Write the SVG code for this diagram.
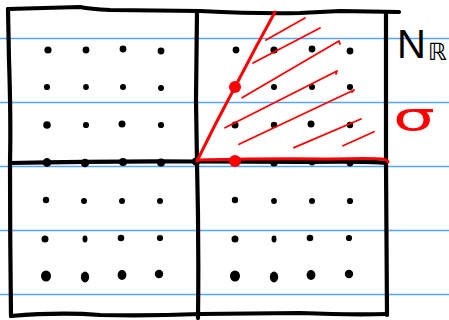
<svg xmlns="http://www.w3.org/2000/svg" width="449" height="320" viewBox="0 0 449 320">
<style>
.blue{stroke:#55a8f7;stroke-width:1.6;fill:none}
.ink{stroke:#000;stroke-width:4.2;fill:none;stroke-linecap:round;stroke-linejoin:round}
.red{stroke:#ff0000;stroke-width:3;fill:none;stroke-linecap:round;stroke-linejoin:round}
.hatch{stroke:#ff0000;stroke-width:1.8;fill:none;stroke-linecap:round;stroke-linejoin:round}
.dot{fill:#000}
.rdot{fill:#ff0000}
.lbl{font-family:"DejaVu Sans",sans-serif}
</style>
<rect width="449" height="320" fill="#fff"/>
<g id="paper-lines">
<line class="blue" x1="0" y1="38.5" x2="449" y2="38.5"/>
<line class="blue" x1="0" y1="102.5" x2="449" y2="102.5"/>
<line class="blue" x1="0" y1="166.5" x2="449" y2="166.5"/>
<line class="blue" x1="0" y1="230.5" x2="449" y2="230.5"/>
<line class="blue" x1="0" y1="294.5" x2="449" y2="294.5"/>
</g>
<g id="grid-borders">
<path class="ink" d="M8,9 L80,7 Q90,9 110,10 L200,11 Q260,14 300,13 L340,11 L399,12"/>
<path class="ink" d="M8,9 L9,60 Q11,120 10,163 Q10,240 11,316"/>
<path class="ink" d="M197,11 L196,100 L197,163 Q199,240 198,318"/>
<path class="ink" d="M386,12 L386,163 L387,315"/>
<path class="ink" d="M10,163 Q100,161 197,161.5 L300,162 Q370,161 386,163"/>
<path class="ink" d="M11,316 Q60,312 100,315 Q150,316 200,314 L300,313 Q350,315 387,314"/>
</g>
<g id="lattice">
<circle class="dot" cx="48" cy="50" r="3.6"/><circle class="dot" cx="86" cy="50" r="3.4"/><circle class="dot" cx="123" cy="49" r="3.4"/><circle class="dot" cx="161" cy="51" r="3.4"/>
<circle class="dot" cx="47" cy="87" r="3.1"/><circle class="dot" cx="86" cy="87" r="2.9"/><circle class="dot" cx="123" cy="87" r="3"/><circle class="dot" cx="161" cy="88" r="3"/>
<circle class="dot" cx="47" cy="125" r="3.8"/><circle class="dot" cx="86" cy="125" r="3.1"/><circle class="dot" cx="122" cy="124" r="3.5"/><circle class="dot" cx="161" cy="125" r="3.1"/>
<circle class="dot" cx="47" cy="162.5" r="4.4"/><circle class="dot" cx="85" cy="163" r="4.2"/><circle class="dot" cx="123" cy="162" r="4"/><circle class="dot" cx="161" cy="162.5" r="4"/><circle class="dot" cx="196" cy="161.5" r="4"/>
<circle class="dot" cx="46" cy="200" r="3.2"/><circle class="dot" cx="84" cy="201" r="3"/><circle class="dot" cx="122" cy="201" r="3"/><circle class="dot" cx="160" cy="201" r="3"/>
<circle class="dot" cx="45" cy="239" r="3.5"/><ellipse class="dot" cx="85" cy="239" rx="2.5" ry="3.4"/><circle class="dot" cx="121" cy="238" r="3.3"/><circle class="dot" cx="160" cy="238" r="3.1"/>
<ellipse class="dot" cx="46" cy="276" rx="5" ry="5.6"/><ellipse class="dot" cx="85" cy="277" rx="4.2" ry="5.4"/><ellipse class="dot" cx="122" cy="275" rx="4.4" ry="5"/><circle class="dot" cx="159" cy="274" r="4.2"/>
<circle class="dot" cx="236" cy="50" r="3.4"/><circle class="dot" cx="274" cy="50" r="3.6"/><circle class="dot" cx="312" cy="49" r="3.4"/><circle class="dot" cx="350" cy="51" r="3.4"/>
<circle class="dot" cx="274" cy="87" r="3"/><circle class="dot" cx="312" cy="87" r="3"/><circle class="dot" cx="350" cy="87" r="3.1"/>
<circle class="dot" cx="235" cy="125" r="3.5"/><circle class="dot" cx="274" cy="125" r="3.2"/><circle class="dot" cx="311" cy="124" r="3.5"/><circle class="dot" cx="350" cy="125" r="3.2"/>
<circle class="dot" cx="274" cy="163" r="3.6"/><circle class="dot" cx="312" cy="162" r="3.4"/><circle class="dot" cx="350" cy="163" r="3.4"/>
<circle class="dot" cx="235" cy="200" r="3.2"/><circle class="dot" cx="274" cy="201" r="2.9"/><circle class="dot" cx="312" cy="201" r="3"/><circle class="dot" cx="350" cy="201" r="3.1"/>
<circle class="dot" cx="235" cy="239" r="3.5"/><ellipse class="dot" cx="274" cy="239" rx="2.5" ry="3.4"/><circle class="dot" cx="310" cy="238" r="3.3"/><circle class="dot" cx="349" cy="238" r="3.1"/>
<ellipse class="dot" cx="235" cy="276" rx="5" ry="5.6"/><ellipse class="dot" cx="274" cy="277" rx="4.2" ry="5.4"/><ellipse class="dot" cx="311" cy="275" rx="4.4" ry="5"/><circle class="dot" cx="349" cy="274" r="4.2"/>
</g>
<g id="cone">
<path class="red" d="M197,161 L215,125 L235,87 L256,47 L275,12"/>
<path class="red" d="M197,160 Q280,158 330,159 Q370,158 382,159 Q388,160 388,162"/>
<path class="hatch" d="M266,40 L305,18"/>
<path class="hatch" d="M253,63 L320,28"/>
<path class="hatch" d="M242,97.7 L339,41 L340,44"/>
<path class="hatch" d="M225,127.7 L337,71 L336,74"/>
<path class="hatch" d="M239,144.3 L354,90 L352,92"/>
<path class="hatch" d="M294,147.7 L361,119"/>
<path class="hatch" d="M343,145.7 L374,131.7"/>
<circle class="rdot" cx="235" cy="87" r="6"/>
<circle class="rdot" cx="235" cy="161" r="6"/>
</g>
<g id="labels">
<text x="397" y="58" fill="#000"><tspan font-family="Liberation Sans, sans-serif" font-size="40">N</tspan><tspan x="428" y="60" font-family="DejaVu Sans, sans-serif" font-size="24">ℝ</tspan></text>
<text class="lbl" x="393" y="130" font-size="38" textLength="42" lengthAdjust="spacingAndGlyphs" fill="#ff0000">σ</text>
</g>
</svg>
